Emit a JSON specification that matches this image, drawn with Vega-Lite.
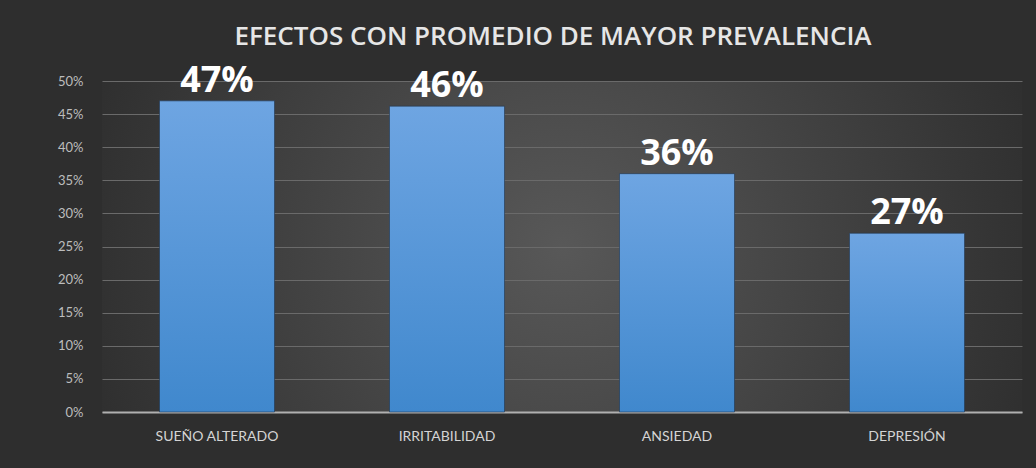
{
  "$schema": "https://vega.github.io/schema/vega-lite/v6.json",
  "width": 920,
  "height": 331,
  "autosize": {"type": "none"},
  "padding": {"left": 102, "top": 81, "right": 14, "bottom": 56},
  "background": "#2e2e2e",
  "title": {
    "text": "EFECTOS CON PROMEDIO DE  MAYOR  PREVALENCIA",
    "anchor": "middle",
    "dx": -9,
    "offset": 13,
    "font": "Open Sans",
    "fontSize": 26,
    "fontWeight": 600,
    "color": "#e6e6e6"
  },
  "data": {
    "values": [
      {"efecto": "SUEÑO ALTERADO", "valor": 0.47},
      {"efecto": "IRRITABILIDAD", "valor": 0.462},
      {"efecto": "ANSIEDAD", "valor": 0.36},
      {"efecto": "DEPRESIÓN", "valor": 0.27}
    ]
  },
  "encoding": {
    "x": {
      "field": "efecto",
      "type": "nominal",
      "sort": null,
      "scale": {"paddingInner": 0.5, "paddingOuter": 0.25},
      "axis": {
        "title": null,
        "labelAngle": 0,
        "labelColor": "#d4d4d4",
        "labelFont": "Lato",
        "labelFontSize": 14,
        "labelPadding": 17,
        "ticks": false,
        "domainColor": "#b0b0b0",
        "domainWidth": 2,
        "grid": false
      }
    },
    "y": {
      "field": "valor",
      "type": "quantitative",
      "scale": {"domain": [0, 0.5], "nice": false},
      "axis": {
        "title": null,
        "format": ".0%",
        "values": [0, 0.05, 0.1, 0.15, 0.2, 0.25, 0.3, 0.35, 0.4, 0.45, 0.5],
        "labelColor": "#bdbdbd",
        "labelFont": "Lato",
        "labelFontSize": 13,
        "labelPadding": 19,
        "ticks": false,
        "domain": false,
        "grid": true,
        "gridColor": "#6a6a6a",
        "gridWidth": 1
      }
    }
  },
  "layer": [
    {
      "mark": {
        "type": "bar",
        "fill": {
          "gradient": "linear",
          "x1": 0, "y1": 0, "x2": 0, "y2": 1,
          "stops": [
            {"offset": 0, "color": "#6ea5e2"},
            {"offset": 1, "color": "#4088cd"}
          ]
        },
        "stroke": "#1f3550",
        "strokeWidth": 1,
        "strokeOpacity": 0.6
      }
    },
    {
      "mark": {
        "type": "text",
        "baseline": "alphabetic",
        "dy": -9,
        "font": "Open Sans",
        "fontSize": 36,
        "fontWeight": "bold",
        "color": "#ffffff"
      },
      "encoding": {
        "text": {"field": "valor", "type": "quantitative", "format": ".0%"}
      }
    }
  ],
  "config": {
    "view": {
      "stroke": null,
      "fill": {
        "gradient": "radial",
        "x1": 0.5, "y1": 0.5, "r1": 0,
        "x2": 0.5, "y2": 0.5, "r2": 0.55,
        "stops": [
          {"offset": 0, "color": "#585858"},
          {"offset": 1, "color": "#2e2e2e"}
        ]
      }
    }
  }
}
